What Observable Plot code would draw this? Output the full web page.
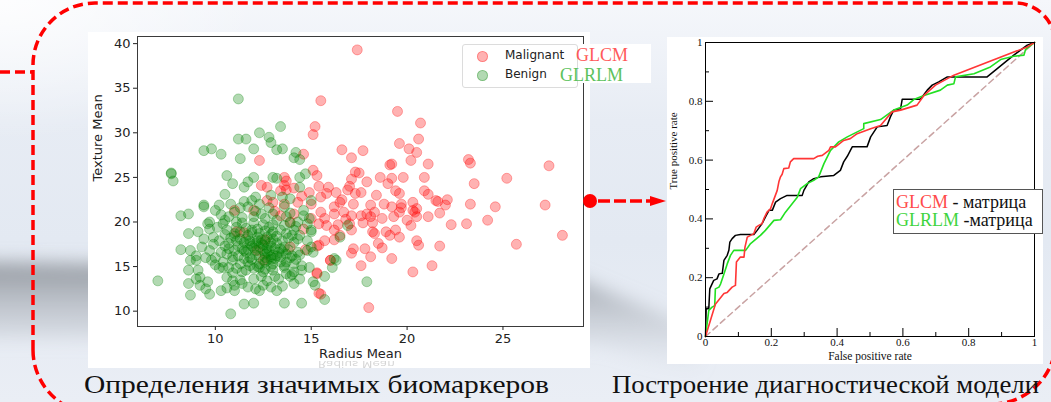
<!DOCTYPE html>
<html><head><meta charset="utf-8">
<script src="https://cdn.jsdelivr.net/npm/d3@7"></script>
<script src="https://cdn.jsdelivr.net/npm/@observablehq/plot@0.6"></script>
<style>
html,body{margin:0;padding:0;}
body{width:1051px;height:402px;position:relative;overflow:hidden;
 background:linear-gradient(180deg,#f5f7fb 0%,#e7ecf4 30%,#e3e9f2 60%,#eaeef5 100%);
 font-family:"DejaVu Sans",sans-serif;}
.abs{position:absolute;}
#scatter{left:88px;top:32px;width:502px;height:336px;background:#fff;}
#rocbox{left:667px;top:37px;width:376px;height:327px;background:#fff;}
#roc{left:667px;top:30px;width:376px;height:334px;}
#sleg{left:462px;top:44px;width:114px;height:42px;border:1px solid #dcdcdc;border-radius:3px;background:rgba(255,255,255,0.85);}
.mk{position:absolute;width:9px;height:9px;border-radius:50%;}
.lt{position:absolute;font:12px "DejaVu Sans",sans-serif;color:#222;white-space:nowrap;}
.serif{font-family:"Liberation Serif","Times New Roman",serif;white-space:nowrap;position:absolute;}
#rleg{left:893px;top:189px;width:148px;height:43px;border:1px solid #555;background:#fff;}
</style></head><body>
<svg class="abs" width="1051" height="402" style="left:0;top:0">
 <defs>
  <filter id="blur" x="-20%" y="-50%" width="140%" height="200%"><feGaussianBlur stdDeviation="9"/></filter>
  <linearGradient id="sw" x1="0" y1="0" x2="0" y2="1">
   <stop offset="0" stop-color="#8d9299" stop-opacity="0.95"/>
   <stop offset="1" stop-color="#c9cfd8" stop-opacity="0"/>
  </linearGradient>
  <radialGradient id="glow" cx="0" cy="0" r="1"><stop offset="0" stop-color="#ffffff"/><stop offset="1" stop-color="#ffffff" stop-opacity="0"/></radialGradient>
 </defs>
 <rect x="0" y="0" width="260" height="140" fill="url(#glow)" opacity="0.8"/>
 <path d="M-30,262 L560,272 L700,330 L700,375 L600,345 L-30,338 Z" fill="url(#sw)" filter="url(#blur)"/>
</svg>
<div id="scatter" class="abs"></div>
<div id="rocbox" class="abs"></div>
<div id="roc" class="abs"></div>
<div id="sleg" class="abs"></div>
<div class="mk" style="left:477px;top:51px;background:rgba(255,0,0,0.3);border:1px solid rgba(255,0,0,0.3);"></div>
<div class="mk" style="left:477px;top:70px;background:rgba(0,128,0,0.3);border:1px solid rgba(0,128,0,0.3);"></div>
<div class="lt" style="left:505px;top:48px;">Malignant</div>
<div class="lt" style="left:505px;top:67px;">Benign</div>
<div class="abs" style="left:578px;top:44px;width:73px;height:39px;background:#fff;"></div>
<div class="serif" style="left:576px;top:45px;font-size:18px;color:#ff5a5a;">GLCM</div>
<div class="serif" style="left:560px;top:65px;font-size:18px;color:#5cc25c;">GLRLM</div>
<div id="rleg" class="abs"></div>
<div class="serif" style="left:896px;top:193px;font-size:18px;line-height:18px;color:#111;"><span style="color:#ff4a4a">GLCM</span> - матрица</div>
<div class="serif" style="left:896px;top:211px;font-size:18px;line-height:18px;color:#111;"><span style="color:#3ed43e">GLRLM</span> -матрица</div>
<div class="abs" style="left:318px;top:358px;font:12px 'DejaVu Sans',sans-serif;line-height:12px;color:#444;opacity:0.22;transform:scaleY(-0.75);">Radius Mean</div>
<svg class="abs" width="1051" height="402" style="left:0;top:0;pointer-events:none">
 <g fill="none" stroke="#ff0000" stroke-width="3.5" stroke-dasharray="10,5">
  <path d="M0,72 H33"/>
  <path d="M33,350 V65 A62,62 0 0 1 95,3 H1015 A40,40 0 0 1 1055,43"/>
  <path d="M33,350 A64,64 0 0 0 97,414"/>
  <path d="M1056,340 A64,64 0 0 1 992,404"/>
 </g>
 <circle cx="590" cy="201" r="7" fill="#ff0000"/>
 <line x1="598" y1="201" x2="652" y2="201" stroke="#ff0000" stroke-width="3.5" stroke-dasharray="12,4"/>
 <path d="M650,196 L666,201 L650,206 Z" fill="#ff0000"/>
 <text x="84" y="393" font-family="Liberation Serif" font-size="26" fill="#111" textLength="465" lengthAdjust="spacingAndGlyphs">Определения значимых биомаркеров</text>
 <text x="612" y="393" font-family="Liberation Serif" font-size="26" fill="#111" textLength="427" lengthAdjust="spacingAndGlyphs">Построение диагностической модели</text>
</svg>
<script>
// ---------- scatter data: [Radius Mean, Texture Mean] ----------
const malignantPoints = [
[17.4,39.3],[15.5,33.6],[19.5,32.4],[20.7,31.1],[15.2,30.7],[15.1,29.8],[20.6,29.3],[19.6,28.8],[20.1,28.2],[16.6,28.1],
[17.7,28.0],[20.5,27.8],[12.3,26.9],[17.1,27.2],[14.6,27.6],[23.2,27.0],[23.3,26.6],[27.4,26.3],[21.1,26.5],[20.2,26.9],
[19.1,26.4],[19.2,26.5],[17.3,25.6],[17.5,25.5],[15.1,25.8],[15.3,25.2],[13.6,25.0],[18.6,25.0],[19.2,24.9],[19.8,25.0],
[20.9,25.0],[25.2,24.9],[23.5,24.3],[13.7,24.6],[17.1,24.8],[17.9,24.5],[12.4,24.1],[15.4,24.0],[15.9,23.9],[17.0,24.0],
[19.4,23.5],[20.9,23.5],[13.4,23.5],[14.1,23.8],[14.9,23.3],[15.8,23.2],[16.3,23.3],[17.3,23.2],[17.6,23.3],[19.6,23.2],
[21.1,23.1],[21.5,22.4],[21.6,22.3],[12.7,22.4],[13.0,22.2],[13.6,22.0],[14.3,22.2],[15.0,22.0],[15.5,22.8],[16.2,21.7],
[16.5,22.2],[17.2,22.0],[18.1,21.9],[18.8,22.0],[19.2,21.7],[19.7,22.0],[20.3,22.2],[20.5,21.5],[23.3,22.0],[24.6,21.7],
[27.2,21.9],[22.0,21.9],[19.7,21.6],[20.3,21.3],[20.4,21.1],[19.6,21.1],[18.3,21.1],[17.9,20.9],[21.7,21.0],[15.5,21.1],
[16.2,20.9],[16.7,21.1],[17.1,20.7],[17.6,20.7],[18.1,20.6],[18.7,20.4],[19.3,20.6],[20.0,20.2],[20.5,20.6],[21.1,20.6],
[13.4,20.7],[14.1,20.9],[22.3,19.7],[23.1,19.8],[24.2,20.2],[20.2,19.6],[18.2,19.9],[17.7,19.9],[17.0,19.8],[16.4,19.7],
[15.8,19.6],[15.4,19.8],[13.9,20.0],[28.1,18.5],[18.2,18.9],[18.3,18.7],[18.9,18.9],[19.4,19.1],[19.6,18.3],[19.1,18.5],
[16.2,19.1],[15.7,17.9],[16.2,18.0],[16.5,18.5],[17.1,19.1],[20.5,17.9],[20.6,17.4],[18.5,17.6],[18.7,17.1],[17.8,17.0],
[17.2,17.0],[18.1,16.1],[25.7,17.5],[21.7,17.3],[15.3,17.3],[16.0,15.7],[17.1,16.5],[19.2,15.9],[17.6,15.1],[21.3,15.1],
[20.3,14.4],[15.3,14.3],[15.5,11.9],[18.0,10.4],[13.9,17.2],[12.7,23.9],[13.7,23.6],[12.0,21.3],[11.5,18.8],[12.2,16.8],
[14.7,16.9],[13.1,21.2],[14.6,19.2],[12.6,18.0],[16.9,23.6],[18.4,23.0],[19.0,24.3],[22.1,22.5],[16.6,22.5],[14.5,22.9],
[15.0,20.4],[15.7,20.4],[16.8,20.3],[11.0,21.3],[11.1,18.9],[12.5,15.7],[13.6,24.1],[15.4,17.4],[16.0,15.7],[15.3,14.2],
[15.4,12.0]
];
const benignPoints = [
[11.2,33.8],[13.4,30.7],[12.3,30.0],[12.8,29.5],[12.9,28.9],[11.2,29.3],[11.6,29.3],[9.8,28.2],[9.4,28.0],[10.3,27.6],
[12.0,28.2],[13.2,28.1],[13.5,28.2],[14.2,27.8],[14.1,27.2],[14.4,27.0],[11.3,27.1],[7.7,25.5],[7.7,25.4],[7.8,24.6],
[10.6,25.2],[10.9,24.3],[11.7,24.5],[12.0,25.0],[13.0,25.0],[13.2,24.9],[14.4,25.0],[14.7,25.4],[11.5,23.9],[10.5,23.1],
[12.1,22.8],[9.4,21.9],[9.4,21.7],[10.0,21.3],[8.2,20.7],[8.6,20.9],[10.8,22.0],[11.0,21.1],[11.7,21.7],[11.9,22.4],
[12.3,22.0],[12.9,23.0],[13.5,22.8],[14.4,23.9],[15.0,22.4],[13.9,22.6],[9.7,20.0],[10.5,20.2],[11.1,20.0],[11.4,20.5],
[12.0,20.6],[12.6,20.4],[13.2,20.2],[13.7,20.6],[14.3,20.0],[14.8,19.8],[15.0,19.1],[16.9,19.6],[8.6,18.7],[9.1,18.9],
[9.7,19.2],[10.1,19.4],[10.6,19.1],[11.0,18.7],[11.3,18.9],[11.7,18.5],[11.9,19.1],[12.3,18.7],[12.7,18.3],[13.0,18.9],
[13.4,19.1],[13.7,18.7],[14.1,19.1],[14.4,18.5],[15.0,18.9],[16.5,18.3],[14.3,18.1],[9.9,18.3],[10.2,17.9],[10.7,17.6],
[11.1,17.9],[11.5,17.7],[11.8,17.6],[12.2,17.9],[12.5,17.4],[12.9,17.7],[13.2,17.6],[13.6,17.2],[14.1,17.7],[15.0,17.2],
[8.2,16.9],[8.7,16.8],[9.7,16.8],[10.3,16.6],[10.6,16.4],[11.0,16.8],[11.6,16.6],[12.1,16.8],[12.6,16.4],[13.0,16.3],
[13.4,16.1],[13.7,16.4],[14.3,16.6],[14.8,16.8],[15.1,16.6],[16.2,15.9],[16.3,15.7],[8.7,15.7],[9.0,15.7],[9.8,15.7],
[10.4,15.5],[10.9,15.7],[11.3,15.3],[11.7,15.5],[12.3,15.3],[12.7,15.7],[13.1,15.9],[13.7,15.5],[14.1,15.3],[14.5,15.1],
[14.9,14.9],[16.1,14.9],[8.6,14.6],[9.1,14.6],[10.2,14.8],[10.7,14.9],[11.1,14.8],[11.6,14.6],[12.0,14.8],[12.5,14.4],
[13.0,14.6],[13.6,14.9],[14.1,14.4],[14.5,14.6],[9.2,13.8],[9.6,13.3],[10.6,13.8],[11.3,13.5],[12.0,13.6],[12.7,13.4],
[13.3,13.6],[13.9,13.9],[14.4,13.6],[15.1,13.3],[15.7,13.9],[17.9,13.3],[7.0,13.4],[8.6,13.1],[9.2,12.9],[9.5,12.5],
[9.7,11.9],[10.3,12.3],[11.0,12.9],[11.4,13.1],[11.7,12.7],[12.1,12.5],[12.3,12.3],[12.9,12.7],[13.5,12.8],[14.1,13.1],
[15.2,12.9],[8.7,11.8],[11.0,12.3],[15.7,11.3],[11.5,10.8],[12.0,10.9],[13.6,10.9],[14.5,10.9],[10.8,9.7],[11.6,18.1],
[11.8,17.9],[12.1,17.6],[12.3,17.2],[12.4,18.0],[12.5,16.8],[12.7,17.1],[12.8,16.8],[12.9,16.1],[13.0,15.3],[12.1,16.3],
[11.9,17.3],[11.5,16.8],[12.6,15.5],[13.4,15.5],[13.6,15.1],[13.9,16.0],[13.0,18.1],[13.4,17.0],[11.3,18.1],[11.1,19.4],
[12.8,19.4],[13.0,19.7],[12.5,19.7],[11.8,16.0],[12.2,15.0],[10.5,18.6],[10.0,16.0],[9.3,17.2],[9.0,16.2],[14.0,14.1],
[14.8,17.9],[14.9,20.4],[14.6,21.3],[13.6,21.7],[12.8,21.6],[12.4,20.9],[11.5,22.3],[10.3,20.8],[10.4,19.8],[9.9,17.5],
[10.9,13.4],[12.5,12.9],[13.2,12.3],
[11.2,17.3],[11.4,17.0],[11.7,16.9],[12.0,17.1],[12.2,18.3],[12.4,17.6],[12.6,17.8],[12.7,16.6],[12.9,17.3],[13.1,17.0],
[13.3,16.6],[13.5,17.9],[13.2,18.4],[12.9,18.6],[12.6,19.0],[12.2,19.2],[11.9,18.8],[11.6,19.3],[11.4,19.9],[12.0,19.9],
[12.3,16.1],[12.6,16.0],[12.9,15.8],[13.2,16.2],[13.5,16.7],[13.8,16.9],[14.0,16.2],[14.2,15.8],[14.4,16.3],[11.9,15.8],
[11.5,15.9],[11.2,16.2],[10.9,16.1],[10.7,17.0],[10.5,17.3],[10.8,18.2],[11.0,18.4],[13.8,18.2],[14.0,18.5],[13.6,19.6],
[13.9,19.9],[14.2,19.5],[12.3,14.9],[12.6,14.7],[12.9,15.0],[11.8,15.1],[11.4,14.4],[10.9,14.3],[10.4,14.9],[10.0,15.2],
[9.5,16.0],[9.4,18.1],[9.6,19.8],[10.2,21.9],[10.7,20.6],[11.3,21.6],[12.1,21.2],[13.0,20.9],[13.9,21.0],[14.6,20.7],
[12.4,13.9],[13.1,13.9],[13.7,14.2],[10.6,12.6],[9.0,13.6]
];
const radiusTicks = [10, 15, 20, 25];
const textureTicks = [10, 15, 20, 25, 30, 35, 40];
const scatterXLabel = ["Radius Mean"];
const scatterYLabel = ["Texture Mean"];

// ---------- ROC data ----------
const glcmFpr = [0,0.03,0.056,0.066,0.081,0.091,0.094,0.106,0.117,0.12,0.127,0.137,0.147,0.154,0.162,0.172,0.177,0.187,0.198,0.203,0.218,0.223,0.228,0.233,0.238,0.253,0.258,0.268,0.329,0.341,0.355,0.375,0.38,0.395,0.42,0.44,0.461,0.502,0.532,0.567,0.593,0.643,0.664,0.699,0.755,0.978,1];
const glcmTpr = [0,0.11,0.146,0.15,0.168,0.174,0.253,0.27,0.27,0.304,0.338,0.344,0.35,0.372,0.378,0.384,0.4,0.423,0.435,0.452,0.497,0.526,0.543,0.552,0.571,0.573,0.594,0.605,0.605,0.613,0.616,0.633,0.645,0.645,0.667,0.673,0.69,0.707,0.718,0.764,0.77,0.787,0.82,0.855,0.889,0.985,1];
const glrlmFpr = [0,0.01,0.02,0.028,0.03,0.041,0.046,0.056,0.066,0.076,0.086,0.122,0.137,0.167,0.182,0.208,0.228,0.243,0.279,0.289,0.309,0.329,0.344,0.36,0.38,0.405,0.431,0.481,0.481,0.532,0.572,0.613,0.633,0.664,0.714,0.735,0.755,0.76,0.816,0.866,0.897,0.937,0.968,0.973,1];
const glrlmTpr = [0,0.089,0.1,0.105,0.162,0.168,0.179,0.213,0.247,0.276,0.293,0.293,0.316,0.344,0.361,0.395,0.397,0.423,0.474,0.503,0.52,0.531,0.543,0.588,0.633,0.662,0.679,0.707,0.724,0.738,0.77,0.787,0.806,0.82,0.838,0.855,0.86,0.883,0.894,0.917,0.942,0.953,0.957,0.977,1];
const baseFpr = [0,0.002,0.01,0.013,0.02,0.025,0.035,0.041,0.051,0.056,0.066,0.071,0.074,0.081,0.091,0.106,0.147,0.157,0.172,0.182,0.193,0.203,0.213,0.228,0.248,0.294,0.299,0.314,0.329,0.35,0.39,0.41,0.42,0.431,0.446,0.491,0.502,0.522,0.552,0.562,0.572,0.593,0.598,0.653,0.674,0.689,0.709,0.735,0.856,0.937,0.978,1];
const baseTpr = [0,0.094,0.094,0.162,0.179,0.191,0.196,0.213,0.215,0.259,0.276,0.293,0.321,0.333,0.344,0.347,0.347,0.361,0.384,0.406,0.429,0.429,0.457,0.469,0.48,0.48,0.497,0.526,0.537,0.543,0.548,0.565,0.594,0.613,0.645,0.645,0.679,0.713,0.718,0.747,0.77,0.775,0.807,0.807,0.838,0.855,0.866,0.883,0.883,0.957,0.991,1];
const chanceLine = [0, 1];
const rocMajorTicks = [0, 0.2, 0.4, 0.6, 0.8, 1];
const rocMinorTicks = [0.1, 0.3, 0.5, 0.7, 0.9];
const rocXLabel = ["False positive rate"];
const rocYLabel = ["True positive rate"];

const toRows = (f, t) => f.map((v, i) => ({fpr: v, tpr: t[i]}));

// ---------- scatter ----------
const scatter = Plot.plot({
  width: 502, height: 336,
  marginLeft: 49, marginRight: 7, marginTop: 4, marginBottom: 42,
  style: {fontFamily: "DejaVu Sans", background: "white", color: "#222"},
  x: {domain: [5.94, 29.2]},
  y: {domain: [8.28, 40.8]},
  marks: [
    Plot.dot(malignantPoints, {x: d => d[0], y: d => d[1], r: 5, fill: "#ff0000", fillOpacity: 0.3, stroke: "#ff0000", strokeOpacity: 0.3, strokeWidth: 1}),
    Plot.dot(benignPoints, {x: d => d[0], y: d => d[1], r: 5, fill: "#008000", fillOpacity: 0.3, stroke: "#008000", strokeOpacity: 0.3, strokeWidth: 1}),
    Plot.frame({stroke: "#3a3a3a", strokeWidth: 1}),
    Plot.axisX({ticks: radiusTicks, tickSize: 4, tickPadding: 3, label: null, fontSize: 13, tickFormat: d => String(d)}),
    Plot.axisY({ticks: textureTicks, tickSize: 4, tickPadding: 3, label: null, fontSize: 13, tickFormat: d => String(d)}),
    Plot.text(scatterXLabel, {text: d => d, frameAnchor: "bottom", dy: 31, fontSize: 13, fill: "#222"}),
    Plot.text(scatterYLabel, {text: d => d, frameAnchor: "left", dx: -40, rotate: -90, fontSize: 13, fill: "#222"})
  ]
});
document.getElementById("scatter").append(scatter);

// ---------- ROC ----------
const rocH = 334, rocMT = 12, rocMB = 28, rocW = 376, rocML = 38, rocMR = 9;
const ih = rocH - rocMT - rocMB, iw = rocW - rocML - rocMR;
const roc = Plot.plot({
  width: rocW, height: rocH,
  marginLeft: rocML, marginRight: rocMR, marginTop: rocMT, marginBottom: rocMB,
  style: {fontFamily: "Liberation Serif", background: "transparent", color: "#111", overflow: "visible"},
  x: {domain: [0, 1]},
  y: {domain: [0, 1]},
  marks: [
    Plot.line(chanceLine, {x: d => d, y: d => d, stroke: "#c9a3a3", strokeWidth: 1.5, strokeDasharray: "6,4"}),
    Plot.line(toRows(baseFpr, baseTpr), {x: "fpr", y: "tpr", stroke: "#000", strokeWidth: 1.5}),
    Plot.line(toRows(glrlmFpr, glrlmTpr), {x: "fpr", y: "tpr", stroke: "#22e022", strokeWidth: 1.6}),
    Plot.line(toRows(glcmFpr, glcmTpr), {x: "fpr", y: "tpr", stroke: "#ff3636", strokeWidth: 1.6}),
    Plot.frame({stroke: "#000", strokeWidth: 1}),
    Plot.tickX(rocMajorTicks, {x: d => d, insetTop: ih - 8, stroke: "#000"}),
    Plot.tickX(rocMinorTicks, {x: d => d, insetTop: ih - 4, stroke: "#000"}),
    Plot.tickY(rocMajorTicks, {y: d => d, insetRight: iw - 8, stroke: "#000"}),
    Plot.tickY(rocMinorTicks, {y: d => d, insetRight: iw - 4, stroke: "#000"}),
    Plot.axisX({ticks: rocMajorTicks, tickSize: 0, tickPadding: 2, label: null, fontSize: 11, tickFormat: d => String(d)}),
    Plot.axisY({ticks: rocMajorTicks, tickSize: 0, tickPadding: 3, label: null, fontSize: 11, tickFormat: d => String(d)}),
    Plot.text(rocXLabel, {text: d => d, frameAnchor: "bottom", dy: 23, fontSize: 11.5, fill: "#111"}),
    Plot.text(rocYLabel, {text: d => d, frameAnchor: "left", dx: -32, rotate: -90, fontSize: 11, fill: "#111"})
  ]
});
document.getElementById("roc").append(roc);
</script>
</body></html>
